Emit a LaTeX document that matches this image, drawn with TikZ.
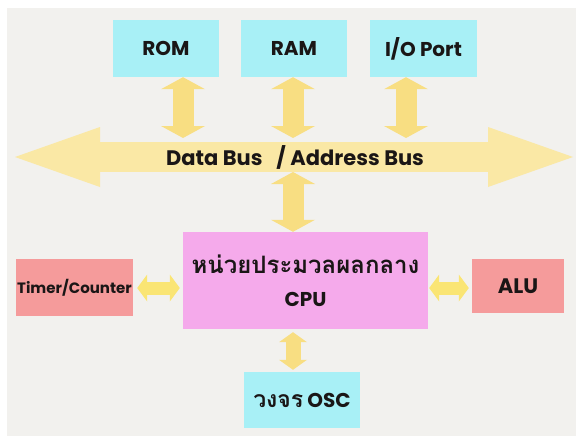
\documentclass[tikz,border=0pt]{standalone}
\usepackage{fontspec}
\setmainfont{Poppins}
\newfontfamily\thaifont[Script=Thai]{Loma}
\usetikzlibrary{arrows.meta}

\definecolor{pagebg}{HTML}{F2F1EE}
\definecolor{memcyan}{HTML}{A8F0F6}
\definecolor{cpupink}{HTML}{F5AAEB}
\definecolor{unitred}{HTML}{F59B9B}
\definecolor{arrowyel}{HTML}{F8DE82}
\definecolor{busyel}{HTML}{FAE8A5}
\definecolor{sideyel}{HTML}{FAE574}
\definecolor{ink}{HTML}{1A1616}

\tikzset{
  blockbox/.style={draw=none, inner sep=0pt, text=ink, font=\bfseries\fontsize{20}{24}\selectfont,
    align=center},
  membox/.style={blockbox, fill=memcyan, minimum width=106pt, minimum height=57pt},
  unitbox/.style={blockbox, fill=unitred},
  busarrow/.style={draw=busyel, line width=30pt,
    {Triangle[width=60pt,length=85pt,line width=0pt]}-{Triangle[width=60pt,length=85pt,line width=0pt]}},
  varrow/.style={draw=arrowyel, line width=21pt,
    {Triangle[width=44pt,length=12pt,line width=0pt]}-{Triangle[width=44pt,length=12pt,line width=0pt]}},
  oscarrow/.style={draw=arrowyel, line width=15pt,
    {Triangle[width=28pt,length=10pt,line width=0pt]}-{Triangle[width=28pt,length=10pt,line width=0pt]}},
  harrow/.style={draw=sideyel, line width=13pt,
    {Triangle[width=27pt,length=10pt,line width=0pt]}-{Triangle[width=27pt,length=10pt,line width=0pt]}},
}

\begin{document}
\begin{tikzpicture}[x=1pt,y=-1pt]
  \useasboundingbox (0,0) rectangle (576,436);
  \fill[white] (0,0) rectangle (576,436);
  \fill[pagebg] (7,8) rectangle (576,436);

  % memory and port blocks
  \node[membox] (rom) at (166,48.5) {ROM};
  \node[membox] (ram) at (294,48.5) {RAM};
  \node[membox, minimum width=107pt] (io) at (423.5,48.5) {I/O Port};

  % system bus
  \coordinate (busL) at (15,157);
  \coordinate (busR) at (573,157);
  \draw[busarrow] (busL) -- (busR);
  \node[blockbox, font=\bfseries\fontsize{21}{24}\selectfont] (bus) at (295,157)
    {Data Bus\hspace{14pt}/ Address Bus};

  % processor and its neighbours
  \node[blockbox, fill=cpupink, minimum width=245pt, minimum height=97pt] (cpu) at (305.5,280.5)
    {{\thaifont\fontsize{24}{30}\selectfont หน่วยประมวลผลกลาง}\\[9pt]CPU};
  \node[unitbox, minimum width=117pt, minimum height=57pt,
        font=\bfseries\fontsize{15}{18}\selectfont] (timer) at (74.5,287.5) {Timer/Counter};
  \node[unitbox, minimum width=92pt, minimum height=54pt,
        font=\bfseries\fontsize{21}{24}\selectfont] (alu) at (518,286) {ALU};
  \node[blockbox, fill=memcyan, minimum width=116pt, minimum height=56pt] (osc) at (302,400)
    {{\thaifont\fontsize{23}{26}\selectfont วงจร} OSC};

  % drop points on the bus
  \coordinate (romdrop) at (183,138);
  \coordinate (ramdrop) at (293,138);
  \coordinate (iodrop) at (406,138);
  \coordinate (cpuup) at (293,172);

  \draw[varrow] (rom.south -| romdrop) -- (romdrop);
  \draw[varrow] (ram.south -| ramdrop) -- (ramdrop);
  \draw[varrow] (io.south -| iodrop) -- (iodrop);
  \draw[varrow] (cpuup) -- (cpu.north -| cpuup);

  \coordinate (oscport) at (293,0);
  \draw[oscarrow] ([yshift=-3pt]cpu.south -| oscport) -- ([yshift=2pt]osc.north -| oscport);

  \coordinate (sidelvl) at (0,288);
  \draw[harrow] ([xshift=4pt]timer.east |- sidelvl) -- ([xshift=-3pt]cpu.west |- sidelvl);
  \draw[harrow] ([xshift=1pt]cpu.east |- sidelvl) -- ([xshift=-3pt]alu.west |- sidelvl);
\end{tikzpicture}
\end{document}
